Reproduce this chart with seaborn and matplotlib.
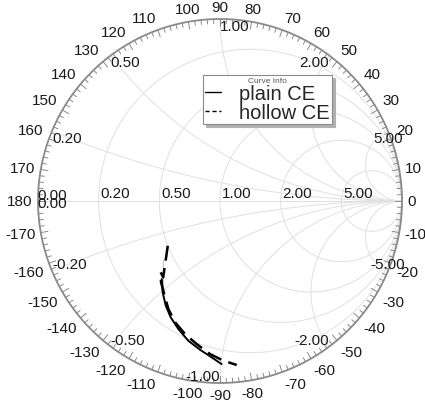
import numpy as np
import pandas as pd
import matplotlib
matplotlib.use("Agg")
import matplotlib.pyplot as plt
import seaborn as sns

sns.set_theme(style="white")
plt.rcParams['font.family'] = ['Liberation Sans', 'DejaVu Sans']

plain_re = [-0.320, -0.315, -0.298, -0.271, -0.229, -0.174, -0.110, -0.046, 0.009]
plain_im = [-0.429, -0.502, -0.575, -0.639, -0.703, -0.768, -0.817, -0.859, -0.896]
hollow_re = [-0.287, -0.312, -0.326, -0.324, -0.312, -0.284, -0.247, -0.192,
             -0.128, -0.055, 0.018, 0.092]
hollow_im = [-0.246, -0.319, -0.392, -0.447, -0.520, -0.593, -0.666, -0.731,
             -0.786, -0.841, -0.877, -0.901]

r_values = [0.2, 0.5, 1.0, 2.0, 5.0]
x_values = [0.2, 0.5, 1.0, 2.0, 5.0]
r_labels = ['0.20', '0.50', '1.00', '2.00', '5.00']
x_labels = ['0.20', '0.50', '1.00', '2.00', '5.00']
angle_labels = list(range(-170, 181, 10))

grid_c = '#e0e0e0'
ring_c = '#8a8a8a'
txt_c = '#1a1a1a'
fs = 11

fig = plt.figure(figsize=(4.25, 4.02), dpi=100)
ax = fig.add_axes([0, 0, 1, 1])
ax.set_xlim(-220 / 182, 205 / 182)
ax.set_ylim(-200 / 182, 202 / 182)
ax.axis('off')

t = np.linspace(0, 2 * np.pi, 721)

# constant resistance circles
for r in r_values:
    c, rad = r / (1 + r), 1 / (1 + r)
    ax.plot(c + rad * np.cos(t), rad * np.sin(t), color=grid_c, lw=0.7, zorder=1)

# constant reactance arcs, clipped to the unit circle
for xv in x_values:
    for s in (1, -1):
        cy, rad = s / xv, 1 / xv
        px = 1 + rad * np.cos(t)
        py = cy + rad * np.sin(t)
        inside = px ** 2 + py ** 2 <= 1.0001
        px = np.where(inside, px, np.nan)
        py = np.where(inside, py, np.nan)
        ax.plot(px, py, color=grid_c, lw=0.7, zorder=1)

ax.plot([-1, 1], [0, 0], color=grid_c, lw=0.7, zorder=1)

# outer ring with degree ticks
ax.plot(np.cos(t), np.sin(t), color=ring_c, lw=1.3, zorder=2)
for d in range(0, 360, 2):
    a = np.deg2rad(d)
    L = 0.04 if d % 10 == 0 else 0.025
    ax.plot([np.cos(a), (1 - L) * np.cos(a)], [np.sin(a), (1 - L) * np.sin(a)],
            color=ring_c, lw=0.7, zorder=2)

for d in angle_labels:
    a = np.deg2rad(d)
    cx, sy = np.cos(a), np.sin(a)
    ha = 'left' if cx > 0.3 else ('right' if cx < -0.3 else 'center')
    va = 'bottom' if sy > 0.3 else ('top' if sy < -0.3 else 'center')
    R = 1.03
    ax.text(R * cx, R * sy, str(d), ha=ha, va=va, fontsize=fs, color=txt_c)

# resistance labels on the real axis
ax.text(-1.005, -0.005, '0.00', ha='left', va='bottom', fontsize=fs, color=txt_c)
ax.text(-1.005, 0.03, '0.00', ha='left', va='top', fontsize=fs, color=txt_c)
for r, lab in zip(r_values, r_labels):
    ax.text((r - 1) / (r + 1) + 0.01, 0.005, lab, ha='left', va='bottom',
            fontsize=fs, color=txt_c)

# reactance labels on the rim
for xv, lab in zip(x_values, x_labels):
    for s in (1, -1):
        g = (1j * s * xv - 1) / (1j * s * xv + 1)
        if xv < 1:
            ha = 'left'
        elif xv == 1:
            ha = 'left' if s > 0 else 'right'
        elif xv < 5:
            ha = 'right'
        else:
            ha = 'center'
        va = 'top' if s > 0 else 'bottom'
        txt = lab if s > 0 else '-' + lab
        ax.text(g.real, g.imag, txt, ha=ha, va=va, fontsize=fs, color=txt_c)

plain = pd.DataFrame({'re': plain_re, 'im': plain_im})
hollow = pd.DataFrame({'re': hollow_re, 'im': hollow_im})
sns.lineplot(data=plain, x='re', y='im', sort=False, color='black', lw=1.4,
             ax=ax, label='plain CE', zorder=3)
sns.lineplot(data=hollow, x='re', y='im', sort=False, color='black', lw=1.8,
             ax=ax, label='hollow CE', zorder=3)
ax.lines[-1].set_dashes((6, 3))
ax.axis('off')

leg = ax.legend(title='Curve Info', fontsize=14.5, title_fontsize=6,
                loc='upper left', bbox_to_anchor=(0.478, 0.81),
                bbox_transform=fig.transFigure, handlelength=0.8,
                handletextpad=0.9, borderpad=0.1, borderaxespad=0,
                labelspacing=0.0, fancybox=False,
                shadow={'color': '#b0b0b0', 'alpha': 1},
                framealpha=1, edgecolor='#8a8a8a')
leg.get_frame().set_linewidth(0.8)
leg.get_title().set_color('#555555')
for h in leg.get_lines():
    h.set_linewidth(1.0)
leg.get_lines()[1].set_dashes((3, 2))

fig.savefig('out.png', dpi=100)
